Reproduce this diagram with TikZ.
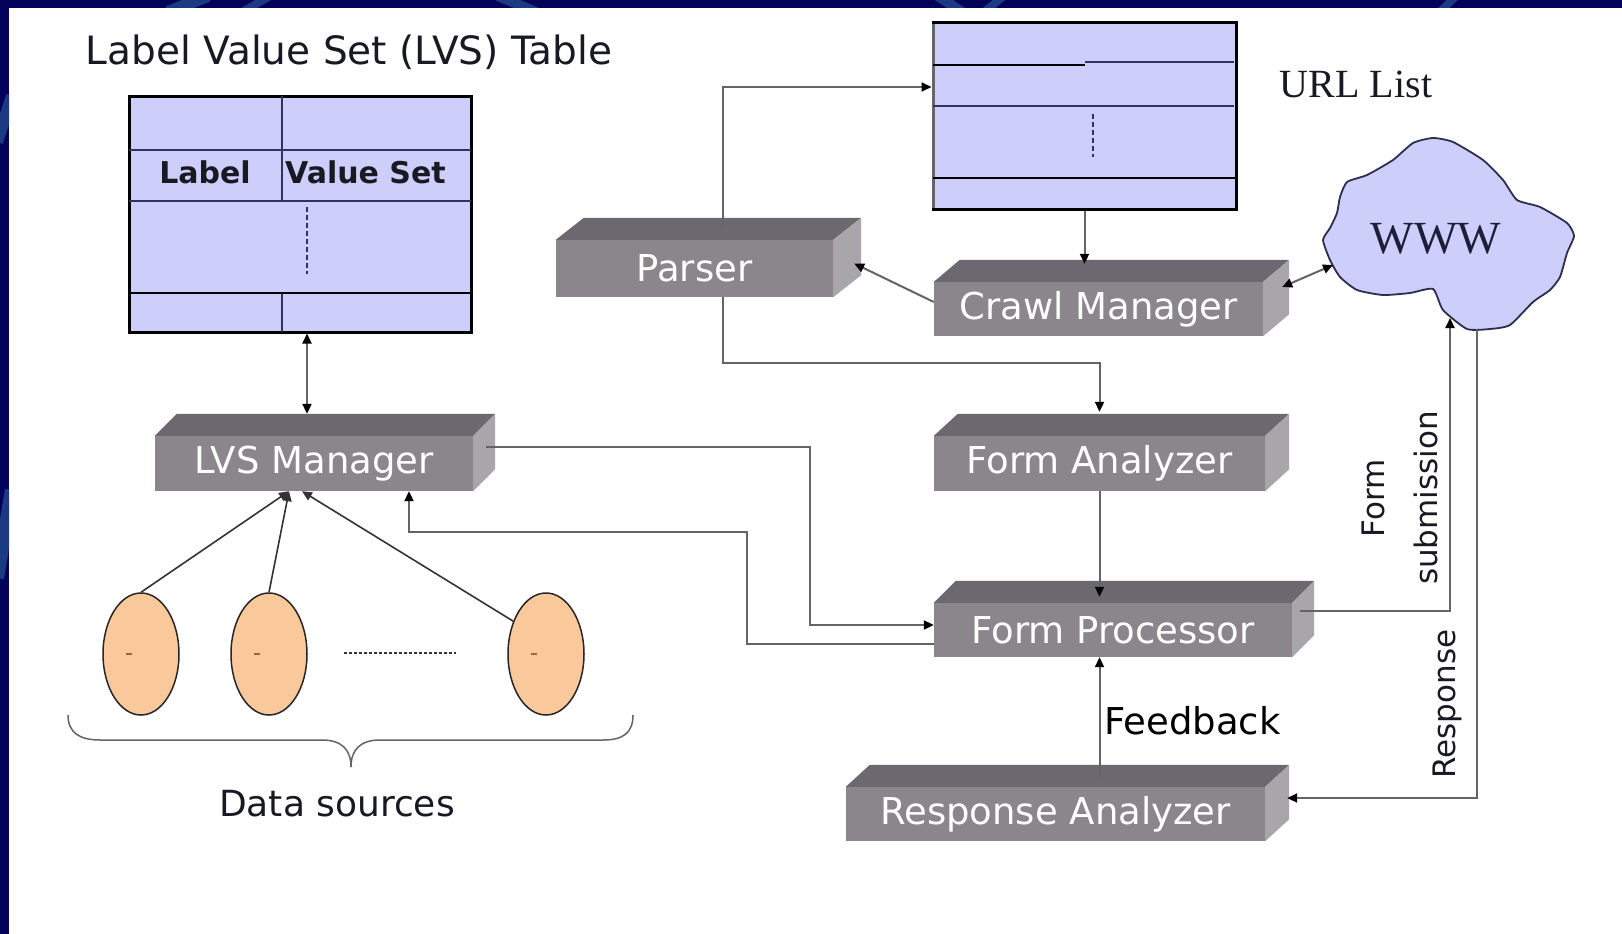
\documentclass[tikz,border=0pt]{standalone}
\usepackage{fontspec}
\usetikzlibrary{arrows.meta,shapes.geometric}
\newfontfamily\dv{DejaVu Sans}
\newfontfamily\ser{Liberation Serif}
\definecolor{navyc}{RGB}{2,2,90}
\definecolor{arcb}{RGB}{28,58,130}
\definecolor{lav}{RGB}{206,206,250}
\definecolor{gridc}{RGB}{50,50,95}
\definecolor{frontc}{RGB}{138,134,140}
\definecolor{topc}{RGB}{108,104,112}
\definecolor{sidec}{RGB}{168,166,170}
\definecolor{linec}{RGB}{100,100,100}
\definecolor{peach}{RGB}{249,201,155}
\definecolor{txt}{RGB}{25,25,35}
\definecolor{cloudline}{RGB}{45,45,80}
\begin{document}
\begin{tikzpicture}[x=1pt,y=-1pt,
  gbox/.style={rectangle, fill=frontc, text=white, inner sep=0pt,
    font=\dv\fontsize{37}{40}\selectfont},
  tbl/.style={rectangle, draw=black, line width=3pt, fill=lav, inner sep=0pt},
  ds/.style={ellipse, minimum width=76pt, minimum height=122pt, fill=peach,
    draw=black!85, line width=1.5pt, inner sep=0pt},
  conn/.style={draw=linec, line width=2pt},
  arr/.style={conn, -{Triangle[length=10pt,width=9pt,color=black]}},
  dbl/.style={conn, {Triangle[length=10pt,width=9pt,color=black]}-{Triangle[length=10pt,width=9pt,color=black]}},
  src/.style={draw=black!80, line width=1.6pt, -{Triangle[length=10pt,width=9pt]}},
  rowline/.style={draw=gridc, line width=2pt},
  heavyline/.style={draw=black, line width=2.5pt},
  dashline/.style={draw=gridc, line width=1.5pt, dash pattern=on 5pt off 3pt},
  sanslabel/.style={text=txt, inner sep=0pt},
]
\useasboundingbox (0,0) rectangle (1622,934);

% slide frame
\fill[white] (0,0) rectangle (1622,934);
\fill[navyc] (0,0) rectangle (1622,8);
\fill[navyc] (0,0) rectangle (9,934);
\begin{scope}
  \clip (0,0) rectangle (1622,8) (0,0) rectangle (9,934);
  \draw[arcb, line width=12pt] (168,12) -- (208,-4);
  \draw[arcb, line width=8pt] (242,12) -- (270,-4);
  \draw[arcb, line width=10pt] (498,-4) -- (536,12);
  \draw[arcb, line width=10pt] (938,-4) -- (962,12);
  \draw[arcb, line width=8pt] (984,12) -- (1004,-4);
  \draw[arcb, line width=8pt] (1440,12) -- (1456,-4);
  \draw[arcb, line width=12pt] (12,96) -- (-3,142);
  \draw[arcb, line width=14pt] (12,490) -- (-3,578);
\end{scope}

% titles
\node[sanslabel, anchor=base, font=\dv\fontsize{39}{41}\selectfont] (title) at (349,65) {Label Value Set (LVS) Table};
\node[sanslabel, anchor=base, font=\ser\fontsize{40}{42}\selectfont] (urltitle) at (1356,97) {URL List};

% LVS table
\node[tbl, minimum width=342pt, minimum height=236pt] (lvs) at (300,214) {};
\draw[rowline] (129,150) -- (471,150) (129,201) -- (471,201)
  (282,96) -- (282,201) (282,293) -- (282,332);
\draw[heavyline] (129,293) -- (471,293);
\draw[dashline] (307,207) -- (307,274);
\node[sanslabel, anchor=base, font=\dv\bfseries\fontsize{30}{32}\selectfont] (lbl) at (205,183) {Label};
\node[sanslabel, anchor=base west, font=\dv\bfseries\fontsize{30}{32}\selectfont] (vset) at (285,183) {Value Set};

% URL list
\node[tbl, minimum width=303pt, minimum height=186pt] (url) at (1084.5,116) {};
\draw[draw=gray!80!black, line width=3pt] (933,24.5) -- (933,207.5);
\draw[heavyline] (933,65) -- (1085,65);
\draw[rowline] (1085,62) -- (1234,62) (933,106) -- (1234,106);
\draw[heavyline] (933,178) -- (1236,178);
\draw[dashline] (1093,114) -- (1093,157);

% process blocks (front faces)
\node[gbox, minimum width=277pt, minimum height=57pt] (parser) at (694.5,268.5) {Parser};
\node[gbox, minimum width=329pt, minimum height=54pt] (crawl) at (1098.5,309) {Crawl Manager};
\node[gbox, minimum width=318pt, minimum height=55pt] (lvsm) at (314,463.5) {LVS Manager};
\node[gbox, minimum width=331pt, minimum height=55pt] (fa) at (1099.5,463.5) {Form Analyzer};
\node[gbox, minimum width=358pt, minimum height=54pt] (fp) at (1113,630) {Form Processor};
\node[gbox, minimum width=419pt, minimum height=54pt] (ra) at (1055.5,814) {Response Analyzer};

% top and side faces of the blocks
\foreach \n/\dep in {parser/28,crawl/26,lvsm/22,fa/24,fp/22,ra/24}{
  \fill[topc] (\n.north west) -- ++(\dep,-22) -- ([shift={(\dep,-22)}]\n.north east) -- (\n.north east) -- cycle;
  \fill[sidec] (\n.north east) -- ++(\dep,-22) -- ([shift={(\dep,-22)}]\n.south east) -- (\n.south east) -- cycle;
}

% data sources
\node[ds] (e1) at (141,654) {};
\node[ds] (e2) at (269,654) {};
\node[ds] (e3) at (546,654) {};
\foreach \e in {e1,e2,e3}{
  \draw[draw={rgb,255:red,170;green,100;blue,40}, line width=1.5pt] ([xshift=-15pt]\e.center) -- ++(6,0);
}
\draw[draw=black!80, line width=2pt, dash pattern=on 3pt off 2pt] (e2.east |- 0,653) ++(36,0) -- (456,653);
\draw[draw=linec, line width=1.5pt] (68,715) .. controls (68,733) and (80,740) .. (100,740) -- (322,740)
  .. controls (342,740) and (351,750) .. (351,767)
  .. controls (351,750) and (360,740) .. (380,740) -- (603,740)
  .. controls (623,740) and (633,733) .. (633,715);
\node[sanslabel, anchor=base, font=\dv\fontsize{36}{38}\selectfont] (dsrc) at (337,816) {Data sources};

% the web
\draw[fill=lav, draw=cloudline, line width=1.8pt] plot[smooth cycle, tension=0.35] coordinates {
  (1340,197) (1347,182) (1367,175) (1393,160) (1413,143) (1433,138) (1453,142)
  (1483,160) (1503,180) (1517,200) (1540,207) (1567,223) (1574,236) (1567,253)
  (1560,277) (1550,290) (1533,302) (1510,325) (1490,329) (1467,329) (1443,310)
  (1433,289) (1410,293) (1383,295) (1357,290) (1340,277) (1330,260) (1323,240)
  (1330,228) (1337,213)};
\node[anchor=base, inner sep=0pt, text={rgb,255:red,30;green,30;blue,60}, font=\ser\fontsize{46}{48}\selectfont] (www) at (1436,253) {WWW};
\coordinate (wwwL) at (1333,265);
\coordinate (wwwB1) at (1450,318);
\coordinate (wwwB2) at (1477,329);

% connectors
\coordinate (fpTop) at ([yshift=6pt]fp.north);
\coordinate (raTop) at ([yshift=9pt]ra.north);
\draw[dbl] ([xshift=7pt]lvs.south) -- ([xshift=-7pt,yshift=22pt]lvsm.north);
\draw[src] (e1.north) -- ([xshift=-25pt]lvsm.south);
\draw[src] (e2.north) -- ([xshift=-25pt]lvsm.south);
\draw[src] (e3.135) -- ([xshift=-12pt]lvsm.south);
\draw[arr] ([xshift=13pt,yshift=16.5pt]lvsm.east) -- ++(324,0) |- ([yshift=5pt]fp.west);
\draw[arr] ([yshift=-14pt]fp.west) -- ++(-187,0) -- ++(0,-112) -| ([xshift=95pt]lvsm.south);
\draw[arr] (url.south) -- ([yshift=18pt]url.south |- crawl.north);
\draw[arr] ([yshift=7pt]crawl.west) -- ([xshift=21pt,yshift=5pt]parser.east);
\draw[arr] ([xshift=28.5pt,yshift=12pt]parser.north) |- ([yshift=29pt]url.west);
\draw[arr] ([xshift=28.5pt]parser.south) -- ++(0,66) -| ([yshift=24pt]fa.north);
\draw[arr] (fa.south) -- (fa.south |- fpTop);
\draw[arr] (raTop -| fa.south) -- node[pos=0.47, right, inner sep=4pt, text=black, font=\dv\fontsize{37}{40}\selectfont] (fb) {Feedback} (fp.south -| fa.south);
\draw[arr] ([xshift=8pt,yshift=19pt]fp.east) -| (wwwB1);
\draw[arr] (wwwB2) |- ([xshift=22pt,yshift=16pt]ra.east);
\draw[dbl] ([xshift=19pt,yshift=22pt]crawl.east) -- (wwwL);

% connector labels
\node[sanslabel, rotate=90, align=center, font=\dv\fontsize{31}{53}\selectfont] (fsub) at (1400,498) {Form\\submission};
\node[sanslabel, rotate=90, font=\dv\fontsize{31}{33}\selectfont] (resp) at (1447,704) {Response};
\end{tikzpicture}
\end{document}
